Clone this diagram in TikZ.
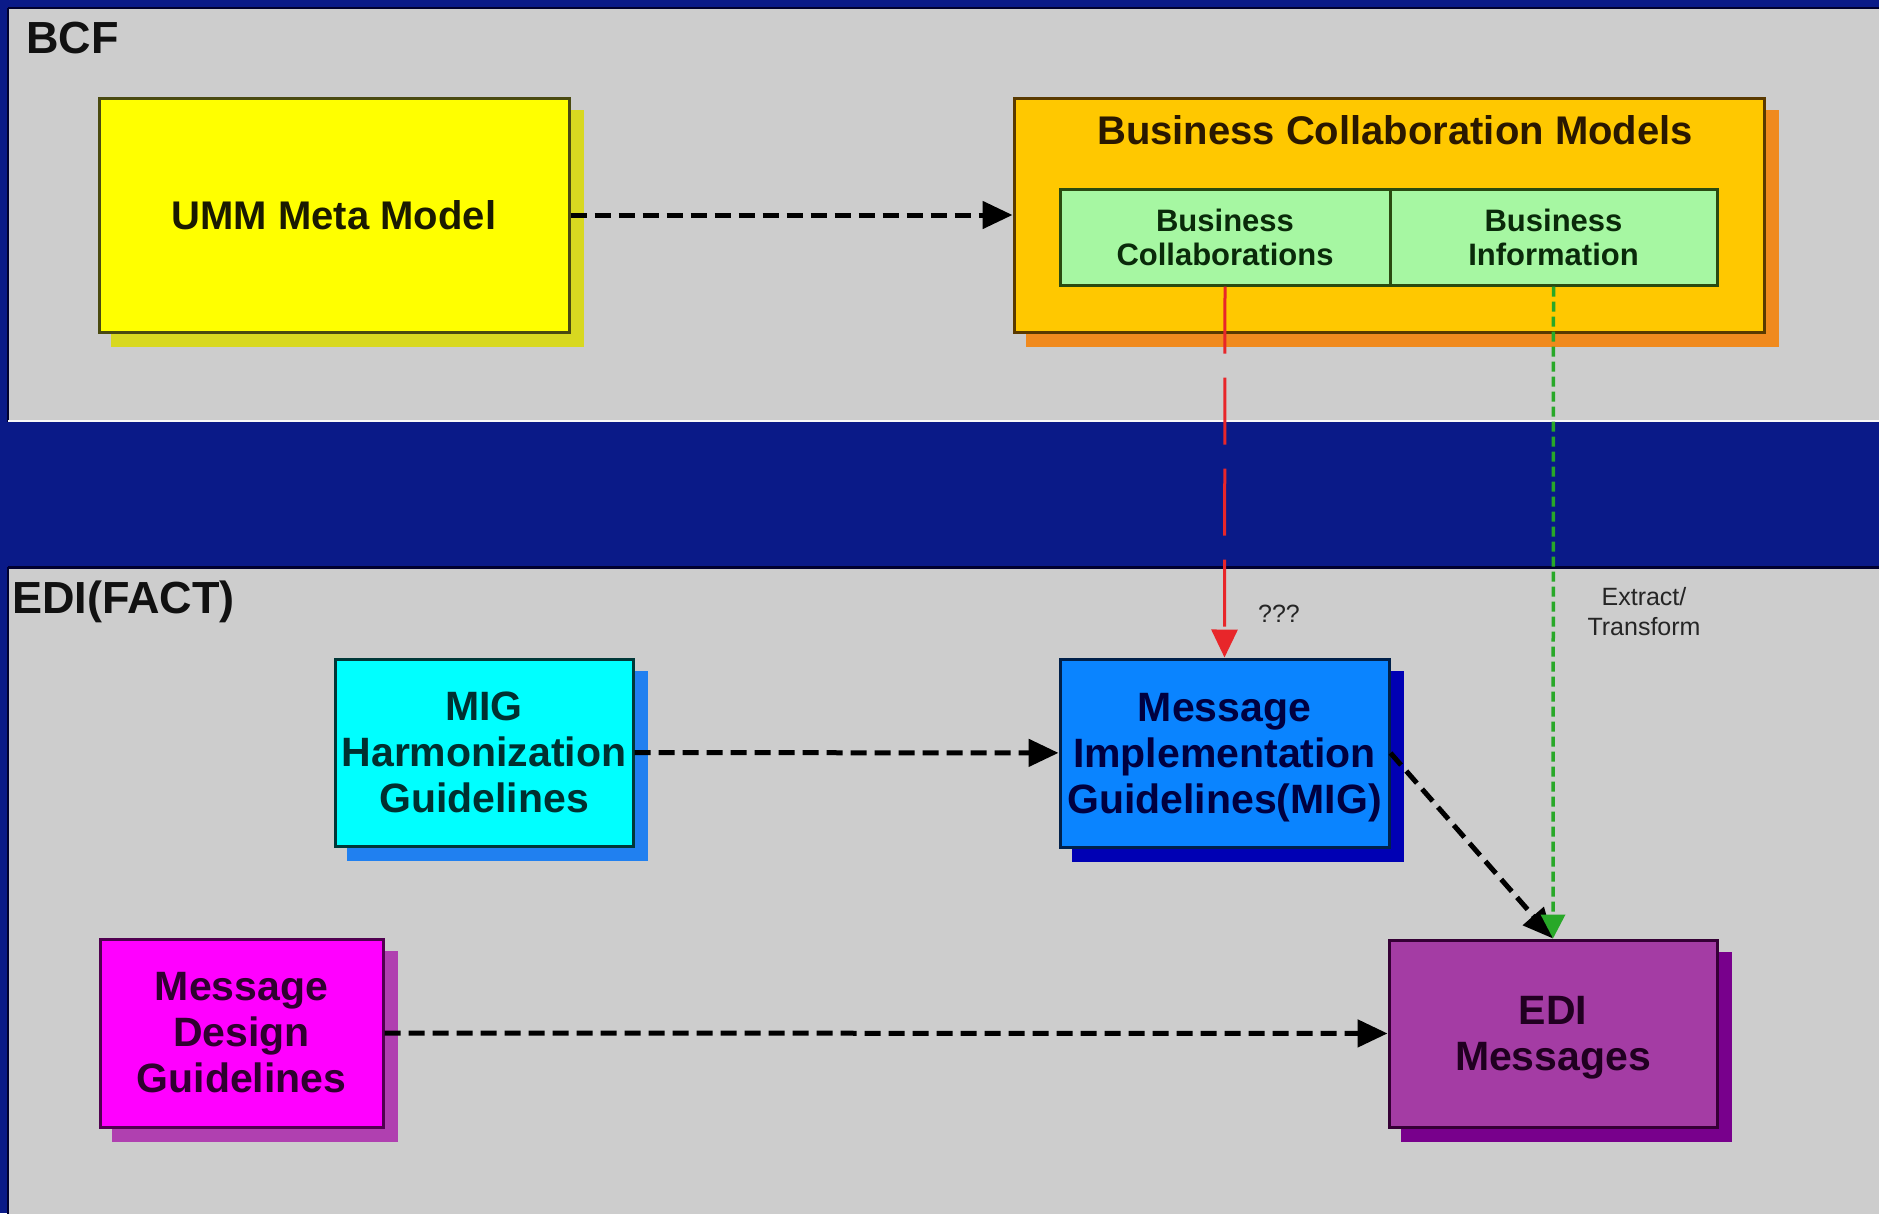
\documentclass[tikz,border=0pt]{standalone}
\usepackage{fontspec}
\setmainfont{Liberation Sans}
\usetikzlibrary{arrows.meta}
\pgfdeclarelayer{panels}
\pgfdeclarelayer{shadows}
\pgfsetlayers{panels,shadows,main}

\definecolor{navyband}{HTML}{0A1A88}
\definecolor{panelgray}{HTML}{CDCDCD}
\definecolor{paneledge}{HTML}{000030}
\definecolor{labeltext}{HTML}{111111}
\definecolor{smalltextc}{HTML}{252525}

\definecolor{ummfill}{HTML}{FFFF00}
\definecolor{ummshadow}{HTML}{D8D820}
\definecolor{ummborder}{HTML}{4A4A10}
\definecolor{ummtext}{HTML}{1A1A00}

\definecolor{bcmfill}{HTML}{FFC800}
\definecolor{bcmshadow}{HTML}{F08A1E}
\definecolor{bcmborder}{HTML}{5A3A00}
\definecolor{bcmtext}{HTML}{2A1800}

\definecolor{greenfill}{HTML}{A6F7A2}
\definecolor{greenborder}{HTML}{2A4A10}
\definecolor{greentext}{HTML}{0A2A0A}

\definecolor{mighfill}{HTML}{00FFFF}
\definecolor{mighshadow}{HTML}{2080F0}
\definecolor{mighborder}{HTML}{003838}
\definecolor{mightext}{HTML}{003030}

\definecolor{migfill}{HTML}{0A84FF}
\definecolor{migshadow}{HTML}{0000B4}
\definecolor{migborder}{HTML}{00204A}
\definecolor{migtext}{HTML}{000040}

\definecolor{mdgfill}{HTML}{FF00FF}
\definecolor{mdgshadow}{HTML}{B040B0}
\definecolor{mdgborder}{HTML}{500050}
\definecolor{mdgtext}{HTML}{300030}

\definecolor{edifill}{HTML}{A43CA4}
\definecolor{edishadow}{HTML}{78008C}
\definecolor{ediborder}{HTML}{350035}
\definecolor{editext}{HTML}{200020}

\definecolor{redarrowc}{HTML}{E8262A}
\definecolor{greenarrowc}{HTML}{28A828}

\begin{document}
\begin{tikzpicture}[x=1pt,y=-1pt,
  box/.style={draw, line width=3pt, inner sep=0pt, align=center,
    font=\bfseries\fontsize{41}{46}\selectfont},
  paneltitle/.style={anchor=base west, inner sep=0pt, text=labeltext,
    font=\bfseries\fontsize{45}{54}\selectfont},
  smalllabel/.style={inner sep=0pt, text=smalltextc, align=center,
    font=\fontsize{25}{30}\selectfont},
  blackdash/.style={line width=5pt, dash pattern=on 16pt off 8pt,
    -{Triangle[length=30pt,width=27pt]}},
  reddash/.style={redarrowc, line width=3pt, dash pattern=on 67pt off 24pt,
    -{Triangle[length=28pt,width=26pt]}},
  greendash/.style={greenarrowc, line width=3.5pt, dash pattern=on 10pt off 5pt,
    -{Triangle[length=24pt,width=24pt]}},
]
\useasboundingbox (0,0) rectangle (1879,1213);

\begin{pgfonlayer}{panels}
  \fill[navyband] (0,0) rectangle (1879,1213);
  \fill[panelgray] (8,8) rectangle (1890,422);
  \fill[panelgray] (8,567) rectangle (1890,1220);
  \draw[paneledge, line width=2pt] (8,8) -- (1890,8);
  \draw[paneledge, line width=2pt] (8,8) -- (8,422);
  \draw[white!85!panelgray, line width=2pt] (8,421) -- (1890,421);
  \draw[paneledge, line width=3pt] (8,567) -- (1890,567);
  \draw[paneledge, line width=2pt] (8,567) -- (8,1220);
\end{pgfonlayer}

% panel titles
\node[paneltitle] (bcf) at (26,53) {BCF};
\node[paneltitle] (edifact) at (12,613) {EDI(FACT)};

% BCF boxes
\node[box, fill=ummfill, draw=ummborder, text=ummtext,
  minimum width=470pt, minimum height=234pt,
  font=\bfseries\fontsize{40}{48}\selectfont] (umm) at (334,215) {UMM Meta Model};
\node[box, fill=bcmfill, draw=bcmborder,
  minimum width=750pt, minimum height=234pt] (bcm) at (1389,215) {};
\node[anchor=base, inner sep=0pt, text=bcmtext,
  font=\bfseries\fontsize{40}{48}\selectfont] (bcmtitle) at (1395,144)
  {Business Collaboration Models};
\node[box, fill=greenfill, draw=greenborder, text=greentext,
  minimum width=330pt, minimum height=96pt,
  font=\bfseries\fontsize{31}{34}\selectfont] (bc) at (1225,237)
  {Business\\Collaborations};
\node[box, fill=greenfill, draw=greenborder, text=greentext,
  minimum width=327pt, minimum height=96pt,
  font=\bfseries\fontsize{31}{34}\selectfont] (bi) at (1553.5,237)
  {Business\\Information};

% EDI boxes
\node[box, fill=mighfill, draw=mighborder, text=mightext,
  minimum width=298pt, minimum height=187pt] (migh) at (484,752.5)
  {MIG\\Harmonization\\Guidelines};
\node[box, fill=migfill, draw=migborder, text=migtext,
  minimum width=329pt, minimum height=188pt] (mig) at (1224.5,753)
  {Message\\Implementation\\\smash{Guidelines(MIG)}};
\node[box, fill=mdgfill, draw=mdgborder, text=mdgtext,
  minimum width=283pt, minimum height=188pt] (mdg) at (241.5,1033)
  {Message\\Design\\Guidelines};
\node[box, fill=edifill, draw=ediborder, text=editext,
  minimum width=328pt, minimum height=187pt] (edi) at (1553,1033.5)
  {EDI\\\smash{Messages}};

% shadows
\begin{pgfonlayer}{shadows}
  \foreach \n/\c in {umm/ummshadow, bcm/bcmshadow, migh/mighshadow,
                     mig/migshadow, mdg/mdgshadow, edi/edishadow}
    \fill[\c] ([shift={(13,13)}]\n.north west) rectangle ([shift={(13,13)}]\n.south east);
\end{pgfonlayer}

% labels
\node[smalllabel] (qqq) at (1279,614) {???};
\node[smalllabel] (extract) at (1644,612) {Extract/\\Transform};

% connectors
\draw[blackdash] (umm) -- (bcm);
\draw[blackdash] (migh) -- (mig);
\draw[blackdash] (mdg) -- (edi);
\draw[blackdash] (mig.east) -- (edi.north);
\draw[reddash] (bc.south) -- (mig.north);
\draw[greendash] (bi.south) -- (edi.north);
\end{tikzpicture}
\end{document}
